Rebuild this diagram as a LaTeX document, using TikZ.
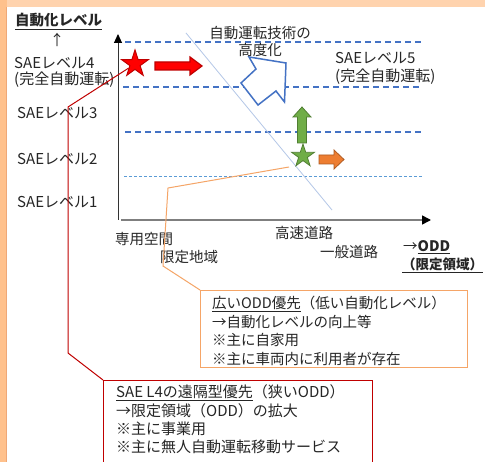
\documentclass[tikz,border=0pt]{standalone}
\usepackage{fontspec}
\setmainfont{Noto Sans CJK JP}
\usetikzlibrary{shapes.geometric,arrows.meta}
\definecolor{txt}{HTML}{262626}
\definecolor{dblue}{HTML}{4472C4}
\definecolor{lblue}{HTML}{5B9BD5}
\definecolor{diagc}{HTML}{B4C7E7}
\definecolor{peachT}{HTML}{FFD3AE}
\definecolor{peachL}{HTML}{FFC18C}
\definecolor{peachD}{HTML}{EFA877}
\definecolor{redf}{HTML}{FF0000}
\definecolor{redd}{HTML}{C00000}
\definecolor{grnf}{HTML}{70AD47}
\definecolor{grnd}{HTML}{507E32}
\definecolor{orf}{HTML}{ED7D31}
\definecolor{ordk}{HTML}{AE5A21}
\definecolor{orl}{HTML}{F5A567}
\definecolor{axg}{HTML}{7F7F7F}
\newcommand\jfs{\fontsize{14.5}{17}\selectfont}
\newcommand\jfl{\fontsize{15}{18}\selectfont}
\tikzset{
  lbl/.style={inner sep=0pt, text=txt, font=\jfs},
  lbll/.style={inner sep=0pt, text=txt, font=\jfl},
  redstar/.style={star, star points=5, star point ratio=2.618, minimum size=28pt, inner sep=0pt, fill=redf, draw=redd, line width=1pt},
  grnstar/.style={star, star points=5, star point ratio=2.618, minimum size=24pt, inner sep=0pt, fill=grnf, draw=grnd, line width=0.8pt},
  dashlvl/.style={draw=dblue, line width=1.3pt, dash pattern=on 6pt off 4pt},
  dotlvl/.style={draw=lblue, line width=0.8pt, dash pattern=on 3pt off 2pt},
  obox/.style={draw=orl, line width=1.2pt, fill=white, inner sep=0pt},
  rbox/.style={draw=redd, line width=1.4pt, fill=white, inner sep=0pt},
}
\begin{document}
\begin{tikzpicture}[x=1pt,y=-1pt]
\useasboundingbox (0,0) rectangle (485,462);
\clip (0,0) rectangle (485,462);
\fill[white] (0,0) rectangle (485,462);
\fill[peachT] (0,0) rectangle (485,7);
\fill[peachL] (0,0) rectangle (7,462);
\fill[peachD] (5.5,7) rectangle (7,462);

% level lines
\draw[dashlvl] (125,42) -- (423,42);
\draw[dashlvl] (123,87) -- (420,87);
\draw[dashlvl] (125,132) -- (422,132);
\draw[dotlvl] (124,176) -- (422,176);

% diagonal
\draw[diagc, line width=0.8pt] (186,33) -- (332,210);

% axes
\coordinate (yo) at (118,220);
\coordinate (ytop) at (118,34);
\coordinate (xo) at (121,220);
\coordinate (xend) at (431,220);
\draw[line width=1pt, draw=black!80, -{Triangle[length=9pt,width=8pt,color=black]}] (yo) -- (ytop);
\draw[line width=1.6pt, draw=axg, -{Triangle[length=9pt,width=9pt,color=black]}] (xo) -- (xend);

% blue outline arrow
\draw[draw=dblue, line width=1.5pt, fill=white, line join=miter]
  (249,57) -- (286,63) -- (284.5,102) -- (276,91) -- (258,105) -- (241,83) -- (256,69) -- cycle;

% red arrow and star
\draw[fill=redf, draw=redd, line width=1.2pt]
  (155,62) -- (190,62) -- (190,57) -- (202,66) -- (190,75) -- (190,70) -- (155,70) -- cycle;
\node[redstar] (rs) at (135,64) {};

% green up arrow, star, orange arrow
\draw[fill=grnf, draw=grnd, line width=0.8pt]
  (297.5,143) -- (297.5,117) -- (293,117) -- (302,107) -- (311,117) -- (306.5,117) -- (306.5,143) -- cycle;
\node[grnstar] (gs) at (303,156) {};
\draw[fill=orf, draw=ordk, line width=0.8pt]
  (319,155) -- (334,155) -- (334,150) -- (344,159.5) -- (334,169) -- (334,164) -- (319,164) -- cycle;

% left labels
\node[lbl, anchor=base west, font=\fontsize{14.5}{17}\selectfont\bfseries] (ttl) at (15,26) {\underline{自動化レベル}};
\node[lbl] (up) at (57,40) {↑};
\node[lbll, anchor=west] (l4) at (14,63) {SAEレベル4};
\node[lbll, anchor=west] (l4b) at (14,80) {(完全自動運転)};
\node[lbll, anchor=west] (l3) at (17,113) {SAEレベル3};
\node[lbll, anchor=west] (l2) at (17,159) {SAEレベル2};
\node[lbll, anchor=west] (l1) at (17,202) {SAEレベル1};

% top labels
\node[lbl] (adv1) at (260,33) {自動運転技術の};
\node[lbl] (adv2) at (260,50) {高度化};
\node[lbll, anchor=west] (l5) at (335,58) {SAEレベル5};
\node[lbll, anchor=west] (l5b) at (335,77) {(完全自動運転)};

% x labels
\node[lbl, anchor=west] (x1) at (115,239) {専用空間};
\node[lbl, anchor=west] (x2) at (160,257) {限定地域};
\node[lbl, anchor=west] (x3) at (275,233) {高速道路};
\node[lbl, anchor=west] (x4) at (320,252) {一般道路};
\node[lbl, anchor=base west] (odd1) at (403,252) {→\textbf{\underline{ODD}}};
\node[lbl, anchor=base west, font=\fontsize{13.5}{16}\selectfont\bfseries] (odd2) at (402,269.5) {\underline{（限定領域）}};

% connectors
\coordinate (oc) at (289,167);
\coordinate (ob1) at (168,188);
\coordinate (ob2) at (163,266);
\coordinate (rb1) at (68,107);
\coordinate (rb2) at (68,353);

% boxes
\node[obox, anchor=north west, minimum width=267pt, minimum height=77pt] (ob) at (200,290) {};
\node[rbox, anchor=north west, minimum width=269pt, minimum height=100pt] (rb) at (103,380) {};

\draw[orl, line width=1pt] (oc) -- (ob1) -- (ob2) -- (ob.north west);
\draw[redd, line width=1pt] (rs) -- (rb1) -- (rb2) -- (rb.north west);

% orange box text
\node[lbl, anchor=base west] (o1) at (212,309) {\underline{広いODD優先}（低い自動化レベル）};
\node[lbl, anchor=base west] (o2) at (212,327.5) {→自動化レベルの向上等};
\node[lbl, anchor=base west] (o3) at (212,346) {※主に自家用};
\node[lbl, anchor=base west] (o4) at (212,364.5) {※主に車両内に利用者が存在};

% red box text
\node[lbll, anchor=base west] (r1) at (116,398) {\underline{SAE L4の遠隔型優先}（狭いODD）};
\node[lbll, anchor=base west] (r2) at (116,417) {→限定領域（ODD）の拡大};
\node[lbll, anchor=base west] (r3) at (116,435) {※主に事業用};
\node[lbll, anchor=base west] (r4) at (116,453) {※主に無人自動運転移動サービス};
\end{tikzpicture}
\end{document}
